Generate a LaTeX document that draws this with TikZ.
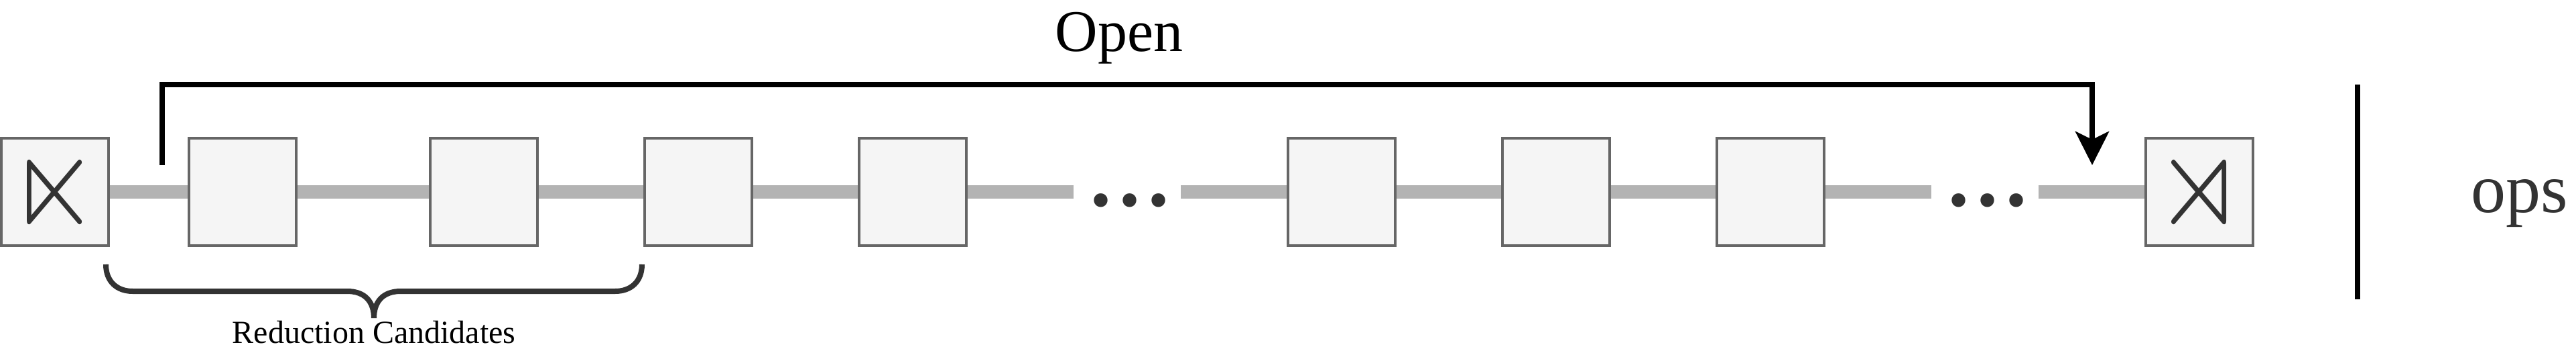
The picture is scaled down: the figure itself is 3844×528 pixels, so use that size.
\documentclass[tikz,border=0pt]{standalone}
\usepackage{graphicx}
\usepackage{amssymb}
\usepackage{fontspec}
\setmainfont{Liberation Serif}
\usetikzlibrary{arrows.meta}
\definecolor{boxfill}{HTML}{F5F5F5}
\definecolor{boxline}{HTML}{666666}
\definecolor{wire}{HTML}{B3B3B3}
\definecolor{ink}{HTML}{333333}
\newcommand{\fs}[1]{\fontsize{#1}{#1}\selectfont}
\newcommand{\tallglyph}[1]{\raisebox{-2pt}{\scalebox{17}[20]{$#1$}}}
\tikzset{
  opbox/.style={draw=boxline,fill=boxfill,line width=4pt,minimum width=160pt,minimum height=160pt,inner sep=0pt,text=ink},
  wireline/.style={draw=wire,line width=20pt},
  label/.style={inner sep=0pt,anchor=base},
  openline/.style={draw=black,line width=8pt,line join=miter},
  dotstext/.style={label,text=ink,font=\fs{172}},
}
\begin{document}
\begin{tikzpicture}[x=1pt,y=-1pt]
\useasboundingbox (0,0) rectangle (3844,528);
\node[opbox] (b0) at (82,286) {\tallglyph{\ltimes}};
\node[opbox] (b1) at (362,286) {};
\node[opbox] (b2) at (722,286) {};
\node[opbox] (b3) at (1042,286) {};
\node[opbox] (b4) at (1362,286) {};
\node[opbox] (b5) at (2002,286) {};
\node[opbox] (b6) at (2322,286) {};
\node[opbox] (b7) at (2642,286) {};
\node[opbox] (b8) at (3282,286) {\tallglyph{\rtimes}};
\coordinate (w1e) at (1602,286);
\coordinate (w2s) at (1762,286);
\coordinate (w3e) at (2882,286);
\coordinate (w4s) at (3042,286);
\draw[wireline] (b0.east) -- (b1.west);
\draw[wireline] (b1.east) -- (b2.west);
\draw[wireline] (b2.east) -- (b3.west);
\draw[wireline] (b3.east) -- (b4.west);
\draw[wireline] (b4.east) -- (w1e);
\draw[wireline] (w2s) -- (b5.west);
\draw[wireline] (b5.east) -- (b6.west);
\draw[wireline] (b6.east) -- (b7.west);
\draw[wireline] (b7.east) -- (w3e);
\draw[wireline] (w4s) -- (b8.west);
\node[dotstext] (d1) at (1686,306) {...};
\node[dotstext] (d2) at (2966,306) {...};
\coordinate (os) at (242,246);
\coordinate (oa) at (242,126);
\coordinate (ob) at (3122,126);
\coordinate (oe) at (3122,246);
\draw[openline,-{Stealth[length=50pt,width=50pt,inset=12pt]}] (os) -- (oa) -- (ob) -- (oe);
\node[label,font=\fs{88}] (open) at (1670,76) {Open};
\coordinate (v1) at (3518,126);
\coordinate (v2) at (3518,446);
\draw[draw=black,line width=8pt] (v1) -- (v2);
\node[label,font=\fs{104},text=ink] (ops) at (3760,316) {ops};
\draw[draw=ink,line width=8pt] (158,394) .. controls (158,420) and (175,434) .. (198,434) -- (518,434) .. controls (545,434) and (558,450) .. (558,474) .. controls (558,450) and (571,434) .. (598,434) -- (918,434) .. controls (941,434) and (958,420) .. (958,394);
\node[label,font=\fs{48}] (rc) at (558,511) {Reduction Candidates};
\end{tikzpicture}
\end{document}
